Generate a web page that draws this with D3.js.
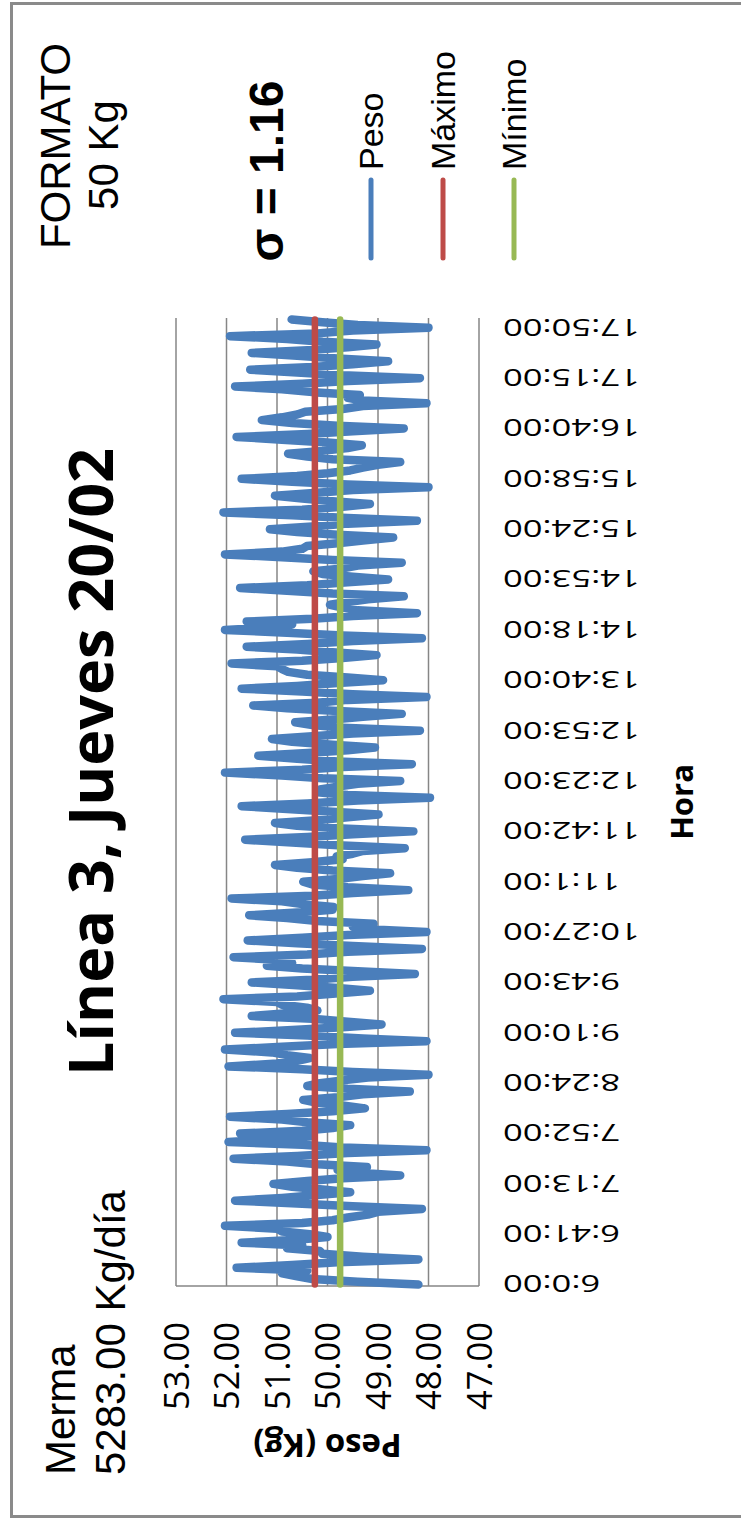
<!DOCTYPE html>
<html>
<head>
<meta charset="utf-8">
<script src="https://cdn.jsdelivr.net/npm/d3@7"></script>
<style>
  html, body { margin: 0; padding: 0; background: #fff; }
  svg { display: block; }
</style>
</head>
<body>
<script>
// Bag weights (kg) sampled along the shift, in order
const weights = [
  48.2, 49.4, 50.3, 50.6, 50.9, 50.4, 51.8, 50.7, 49.8, 48.2, 49.3, 50.1,
  50.15, 50.8, 50.5, 51.7, 50.6, 50.0, 50.35, 50.9, 51.0, 52.03, 50.5, 49.9,
  49.6, 49.2, 49.0, 48.13, 49.5, 50.6, 51.83, 50.9, 50.2, 49.55, 50.1, 50.7,
  51.07, 50.4, 49.7, 48.56, 49.4, 49.8, 49.22, 50.2, 50.8, 51.86, 50.6, 49.6,
  48.04, 49.7, 50.5, 51.96, 51.0, 50.3, 51.73, 50.5, 49.9, 49.55, 50.4, 50.9,
  51.93, 50.8, 49.9, 49.26, 49.7, 50.2, 50.48, 49.8, 49.3, 48.37, 49.6, 50.4,
  50.15, 49.7, 49.2, 48.0, 49.5, 50.5, 51.96, 51.0, 50.6, 50.35, 50.8, 51.1,
  52.03, 50.9, 49.8, 48.04, 49.3, 50.4, 51.83, 50.7, 49.7, 48.93, 49.6, 50.3,
  51.5, 50.8, 50.2, 50.41, 50.9, 51.0, 52.06, 50.6, 49.9, 49.16, 49.8, 50.6,
  51.5, 50.3, 49.5, 48.27, 49.4, 50.5, 51.2, 50.7, 50.9, 51.86, 50.4, 49.6,
  48.13, 49.5, 50.6, 51.58, 50.5, 49.6, 48.04, 49.2, 49.5, 49.09, 50.2, 50.8,
  51.55, 50.6, 49.9, 49.88, 50.5, 50.9, 51.9, 50.3, 49.5, 48.4, 49.6, 50.3,
  50.48, 49.8, 49.3, 48.76, 49.9, 50.6, 51.04, 50.3, 49.7, 49.82, 49.5, 49.3,
  48.47, 49.8, 50.7, 51.63, 50.4, 49.5, 48.3, 49.7, 50.6, 51.04, 50.2, 49.6,
  48.99, 49.9, 50.8, 51.7, 50.4, 49.4, 47.97, 49.6, 50.2, 50.15, 49.8, 49.4,
  48.56, 50.1, 50.9, 52.03, 50.5, 49.7, 48.33, 49.8, 50.6, 51.37, 50.4, 49.6,
  49.06, 49.9, 50.7, 51.1, 50.3, 49.5, 48.17, 49.7, 50.3, 50.64, 49.9, 49.3,
  48.53, 49.8, 50.8, 51.47, 50.2, 49.6, 48.04, 49.5, 50.5, 51.7, 50.6, 49.8,
  48.9, 49.6, 50.4, 50.78, 50.9, 51.0, 51.9, 50.5, 49.7, 49.03, 49.9, 50.6,
  51.6, 50.4, 49.5, 48.13, 49.7, 50.8, 52.03, 51.0, 50.7, 51.6, 50.3, 49.5,
  48.23, 49.4, 49.7, 49.95, 49.6, 49.2, 48.49, 49.9, 50.8, 51.73, 50.4, 49.6,
  48.8, 49.5, 50.1, 50.28, 49.7, 49.4, 48.53, 49.9, 50.9, 52.03, 50.9, 50.5,
  50.41, 49.8, 49.3, 48.7, 49.8, 50.6, 51.14, 50.3, 49.6, 48.23, 49.6, 50.7,
  52.06, 50.5, 49.7, 49.16, 49.9, 50.5, 51.04, 50.2, 49.5, 48.0, 49.6, 50.7,
  51.7, 50.6, 50.0, 49.55, 49.3, 49.0, 48.56, 49.9, 50.4, 50.78, 50.1, 49.6,
  49.32, 50.0, 50.9, 51.8, 50.4, 49.5, 48.49, 49.8, 50.7, 51.3, 50.9, 50.6,
  50.44, 49.7, 49.3, 48.04, 49.3, 49.6, 49.36, 50.3, 50.9, 51.83, 50.5, 49.6,
  48.17, 49.7, 50.6, 51.53, 50.3, 49.5, 48.8, 49.8, 50.6, 51.5, 50.4, 49.6,
  49.03, 50.1, 50.8, 51.93, 50.2, 49.5, 48.0, 49.4, 50.1, 50.71
];

// Time labels shown on the category axis (one every `labelEvery` samples)
const tickLabels = [
  "6:0:00", "6:41:00", "7:13:00", "7:52:00", "8:24:00", "9:10:00", "9:43:00",
  "10:27:00", "11:1:00", "11:42:00", "12:23:00", "12:53:00", "13:40:00",
  "14:18:00", "14:53:00", "15:24:00", "15:58:00", "16:40:00", "17:15:00", "17:50:00"
];
const labelEvery = 18;

// Weight-axis ticks
const yTicks = [53, 52, 51, 50, 49, 48, 47];

// Control limits
const maxLimit = 50.25;
const minLimit = 49.75;

// Header figures
const merma = 5283.00;
const formato = 50;
const sigma = 1.16;

const seriesNames = ["Peso", "Máximo", "Mínimo"];
const seriesColors = ["#4A7EBB", "#BE4B48", "#98B954"];

// ---- drawing (chart laid out landscape, then turned a quarter turn) ----
const W = 1518, H = 741;
const plot = { left: 232, right: 1200, top: 176, bottom: 479 };

const svg = d3.select("body").append("svg")
  .attr("width", H).attr("height", W);

const g = svg.append("g")
  .attr("transform", `translate(0,${W}) rotate(-90)`);

g.append("rect")
  .attr("x", 0).attr("y", 0).attr("width", W).attr("height", H)
  .attr("fill", "#fff");

// chart frame
g.append("rect")
  .attr("x", 1.5).attr("y", 11.5).attr("width", W - 5).attr("height", 800)
  .attr("fill", "none").attr("stroke", "#8a8a8a").attr("stroke-width", 3);

const idx = d3.range(weights.length);
const x = d3.scalePoint().domain(idx).range([plot.left, plot.right]).padding(0.5);
const y = d3.scaleLinear().domain([47, 53]).range([plot.bottom, plot.top]);

// gridlines
g.append("g").selectAll("line").data(yTicks).join("line")
  .attr("x1", plot.left).attr("x2", plot.right)
  .attr("y1", d => y(d)).attr("y2", d => y(d))
  .attr("stroke", "#868686").attr("stroke-width", 1.5);

// value axis line
g.append("line")
  .attr("x1", plot.left).attr("x2", plot.left)
  .attr("y1", plot.top).attr("y2", plot.bottom)
  .attr("stroke", "#868686").attr("stroke-width", 1.5);

// value axis labels
const yAxis = g.append("g")
  .attr("transform", `translate(${plot.left},0)`)
  .call(d3.axisLeft(y).tickValues(yTicks).tickFormat(d3.format(".2f")).tickSize(0).tickPadding(36));
yAxis.select(".domain").remove();
yAxis.selectAll("text")
  .attr("font-family", "'Open Sans', sans-serif")
  .attr("font-size", 34.5)
  .attr("fill", "#000")
  .attr("dy", "0.36em");

// category axis labels
const labelIdx = tickLabels.map((t, k) => k * labelEvery);
const xAxis = g.append("g")
  .attr("transform", `translate(0,${plot.bottom})`)
  .call(d3.axisBottom(x).tickValues(labelIdx).tickFormat(i => tickLabels[i / labelEvery]).tickSize(0));
xAxis.select(".domain").remove();
xAxis.selectAll("text")
  .attr("font-family", "'Open Sans', sans-serif")
  .attr("font-size", 24)
  .attr("fill", "#000")
  .attr("x", 0).attr("y", 0).attr("dy", "0.36em")
  .attr("text-anchor", "end")
  .attr("transform", "translate(0,24) rotate(-90) scale(1.44,1)");

// series
const line = d3.line().x((d, i) => x(i)).y(d => y(d));
const limitLine = v => d3.line().x(i => x(i)).y(() => y(v))(idx);

g.append("path")
  .datum(weights)
  .attr("d", line)
  .attr("fill", "none")
  .attr("stroke", seriesColors[0])
  .attr("stroke-width", 8.5)
  .attr("stroke-linejoin", "round")
  .attr("stroke-linecap", "round");

g.append("path")
  .attr("d", limitLine(maxLimit))
  .attr("fill", "none").attr("stroke", seriesColors[1])
  .attr("stroke-width", 6.5).attr("stroke-linecap", "round");

g.append("path")
  .attr("d", limitLine(minLimit))
  .attr("fill", "none").attr("stroke", seriesColors[2])
  .attr("stroke-width", 6.5).attr("stroke-linecap", "round");

// axis titles
g.append("text")
  .attr("x", (plot.left + plot.right) / 2).attr("y", 693)
  .attr("text-anchor", "middle")
  .attr("font-family", "'Open Sans', sans-serif").attr("font-weight", 700)
  .attr("font-size", 31).attr("fill", "#000")
  .text("Hora");

g.append("text")
  .attr("transform", `translate(84,${(plot.top + plot.bottom) / 2}) rotate(-90)`)
  .attr("text-anchor", "middle")
  .attr("font-family", "'Open Sans', sans-serif").attr("font-weight", 700)
  .attr("font-size", 33).attr("fill", "#000")
  .text("Peso (Kg)");

// title
g.append("text")
  .attr("x", 756).attr("y", 113)
  .attr("text-anchor", "middle")
  .attr("font-family", "'Open Sans', sans-serif").attr("font-weight", 700)
  .attr("font-size", 61).attr("fill", "#000")
  .text("Línea 3, Jueves 20/02");

// header notes
const note = g.append("g")
  .attr("font-family", "'Liberation Sans', Arial, sans-serif")
  .attr("font-size", 42).attr("fill", "#000");

note.append("text").attr("x", 43).attr("y", 75).text("Merma");
note.append("text").attr("x", 43).attr("y", 125)
  .text(`${d3.format(".2f")(merma)} Kg/día`);

note.append("text").attr("x", 1372).attr("y", 70).attr("text-anchor", "middle").text("FORMATO");
note.append("text").attr("x", 1363).attr("y", 118).attr("text-anchor", "middle").text(`${formato} Kg`);

g.append("text")
  .attr("x", 1347).attr("y", 283).attr("text-anchor", "middle")
  .attr("font-family", "'Liberation Sans', Arial, sans-serif").attr("font-weight", 700)
  .attr("font-size", 48).attr("fill", "#000")
  .text(`σ = ${sigma.toFixed(2)}`);

// legend
const legendY = [371, 443, 514];
const legend = g.append("g").selectAll("g").data(seriesNames).join("g")
  .attr("transform", (d, i) => `translate(1260,${legendY[i]})`);
legend.append("line")
  .attr("x1", 0).attr("x2", 78).attr("y1", 0).attr("y2", 0)
  .attr("stroke", (d, i) => seriesColors[i])
  .attr("stroke-width", 5).attr("stroke-linecap", "round");
legend.append("text")
  .attr("x", 88).attr("y", 0).attr("dy", "0.35em")
  .attr("font-family", "'Liberation Sans', Arial, sans-serif")
  .attr("font-size", 34).attr("fill", "#000")
  .text(d => d);
</script>
</body>
</html>
